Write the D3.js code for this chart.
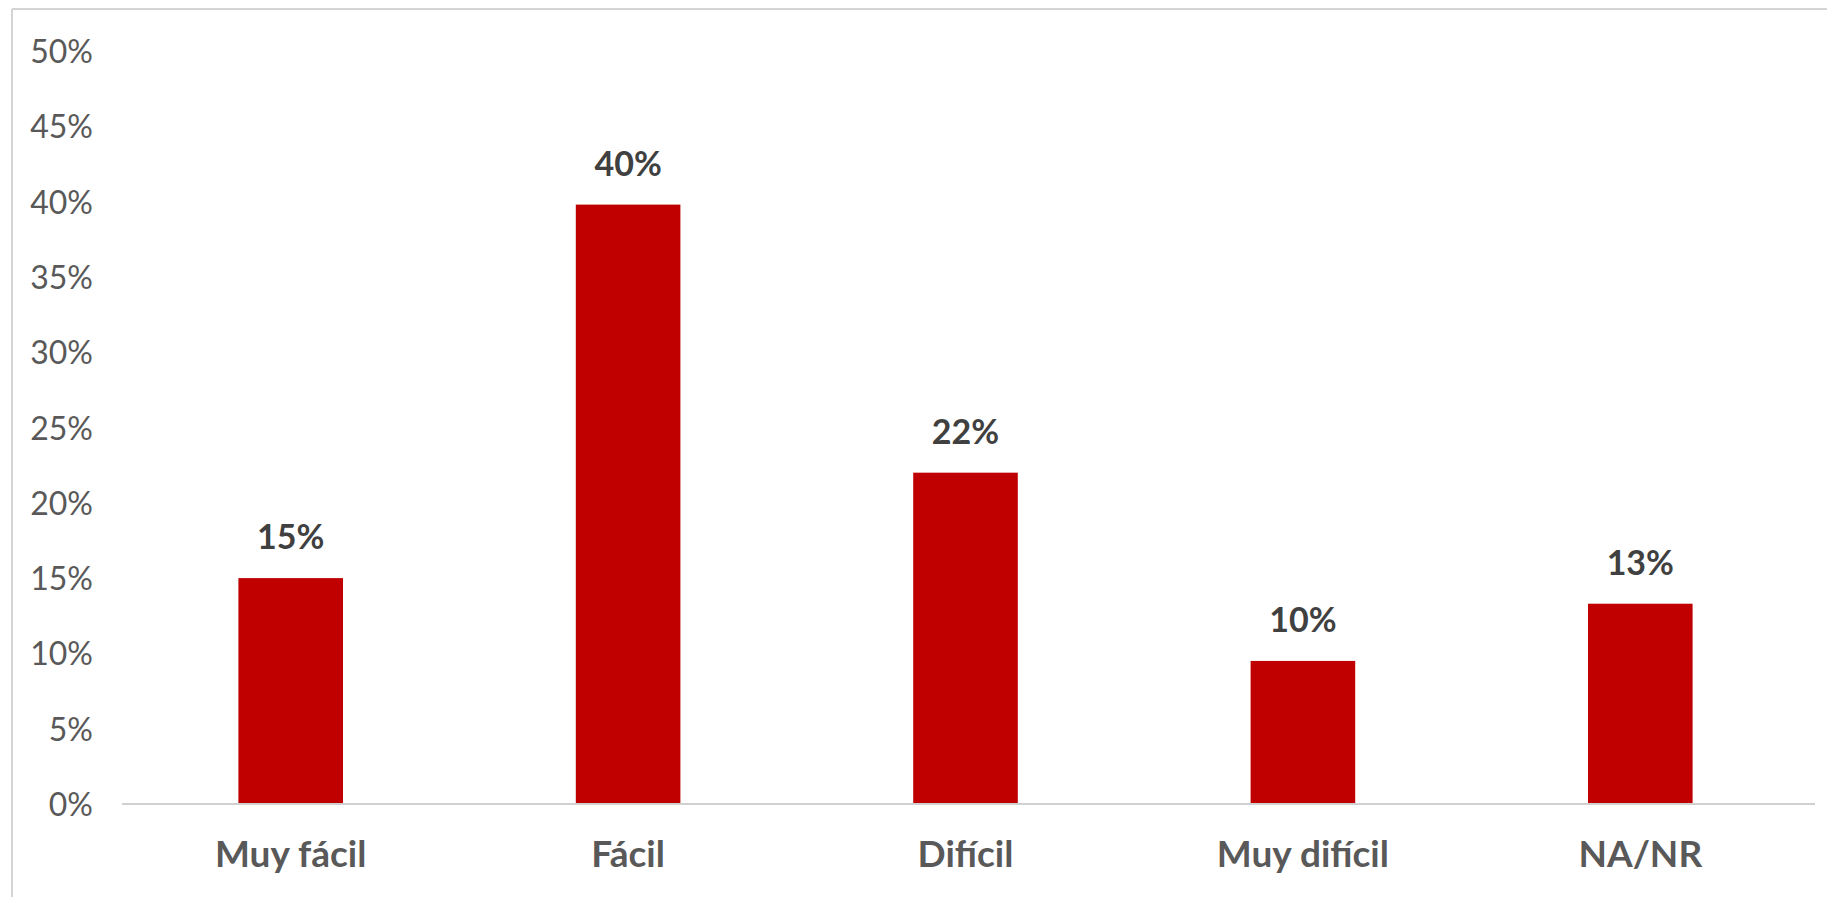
<!DOCTYPE html>
<html>
<head>
<meta charset="utf-8">
<script src="https://cdn.jsdelivr.net/npm/d3@7"></script>
<style>
  html, body { margin: 0; padding: 0; background: #ffffff; }
  svg { display: block; }
</style>
</head>
<body>
<svg id="chart" width="1827" height="897"></svg>
<script>
const categories = ["Muy fácil", "Fácil", "Difícil", "Muy difícil", "NA/NR"];
const values = [15.0, 39.8, 22.0, 9.5, 13.3];
const valueLabels = ["15%", "40%", "22%", "10%", "13%"];
const tickValues = [0, 5, 10, 15, 20, 25, 30, 35, 40, 45, 50];

const svg = d3.select("#chart");
const W = 1827, H = 897;
const margin = {left: 122, right: 18, top: 51, bottom: 93};
const font = "Lato, 'Open Sans', sans-serif";

// outer frame (top and left edges visible)
svg.append("line").attr("x1", 12).attr("x2", W).attr("y1", 9).attr("y2", 9)
  .attr("stroke", "#d4d4d4").attr("stroke-width", 2);
svg.append("line").attr("x1", 12).attr("x2", 12).attr("y1", 9).attr("y2", H)
  .attr("stroke", "#d4d4d4").attr("stroke-width", 2);

const x = d3.scaleBand().domain(categories)
  .range([margin.left, W - margin.right]).paddingInner(0.69).paddingOuter(0.345);
const y = d3.scaleLinear().domain([0, 50]).range([H - margin.bottom, margin.top]);

// y axis labels
const yAxis = d3.axisLeft(y).tickValues(tickValues).tickFormat(d => d + "%").tickSize(0).tickPadding(0);
const gy = svg.append("g").attr("transform", "translate(93,0)").call(yAxis);
gy.select(".domain").remove();
gy.selectAll("text").attr("font-family", font).attr("font-size", 32)
  .attr("fill", "#595959").attr("dy", "0.36em");

// bars
svg.append("g").selectAll("rect").data(values).join("rect")
  .attr("x", (d, i) => x(categories[i]))
  .attr("width", x.bandwidth())
  .attr("y", d => y(d))
  .attr("height", d => y(0) - y(d))
  .attr("fill", "#c00000");

// baseline
const xAxis = d3.axisBottom(x).tickSize(0).tickPadding(0);
const gx = svg.append("g").attr("transform", `translate(0,${y(0)})`).call(xAxis);
gx.select(".domain").attr("stroke", "#d0d0d0").attr("stroke-width", 2)
  .attr("d", `M${margin.left},0H${W - margin.right + 6}`);
gx.selectAll("text").attr("font-family", font).attr("font-size", 37)
  .attr("font-weight", "bold").attr("fill", "#595959")
  .attr("dy", null).attr("y", 63);

// value labels
svg.append("g").selectAll("text").data(values).join("text")
  .attr("x", (d, i) => x(categories[i]) + x.bandwidth() / 2)
  .attr("y", d => y(d) - 29)
  .attr("text-anchor", "middle")
  .attr("font-family", font).attr("font-size", 34).attr("font-weight", "bold")
  .attr("fill", "#404040")
  .text((d, i) => valueLabels[i]);
</script>
</body>
</html>
